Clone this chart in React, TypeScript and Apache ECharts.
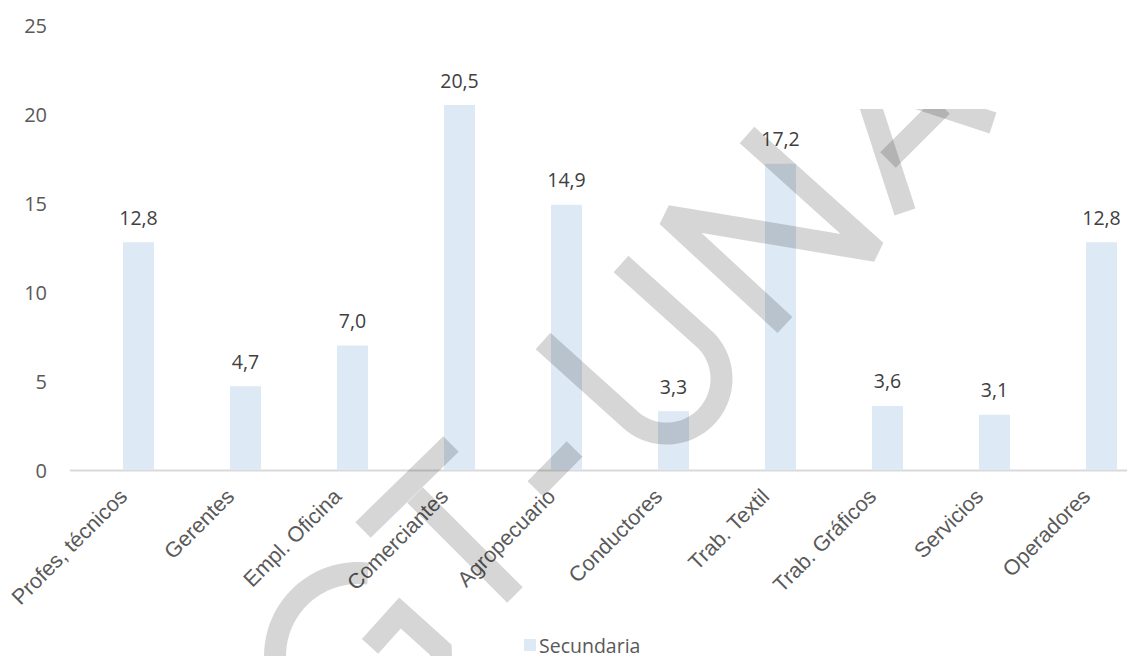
import React, { useEffect, useRef } from "react";
import * as echarts from "echarts";

const categories = [
  "Profes, técnicos",
  "Gerentes",
  "Empl. Oficina",
  "Comerciantes",
  "Agropecuario",
  "Conductores",
  "Trab. Textil",
  "Trab. Gráficos",
  "Servicios",
  "Operadores",
];
const secundaria = [12.8, 4.7, 7.0, 20.5, 14.9, 3.3, 17.2, 3.6, 3.1, 12.8];
const seriesName = "Secundaria";
const yMin = 0;
const yMax = 25;
const yInterval = 5;

const WM_COLOR = "rgba(0,0,0,0.16)";
const WM_WIDTH = 22;

function arcPts(cx: number, cy: number, r: number, a0: number, a1: number, n: number) {
  const pts: number[][] = [];
  for (let i = 0; i <= n; i++) {
    const a = ((a0 + ((a1 - a0) * i) / n) * Math.PI) / 180;
    pts.push([cx + r * Math.cos(a), cy + r * Math.sin(a)]);
  }
  return pts;
}

function watermark() {
  const d = [0.743, 0.669];
  const a1 = [543, 341];
  const a2 = [621, 264];
  const L = 114;
  const e1 = [a1[0] + L * d[0], a1[1] + L * d[1]];
  const e2 = [a2[0] + L * d[0], a2[1] + L * d[1]];
  const uc = [(e1[0] + e2[0]) / 2, (e1[1] + e2[1]) / 2];
  const ur = Math.hypot(e2[0] - e1[0], e2[1] - e1[1]) / 2;
  const ang1 = (Math.atan2(e1[1] - uc[1], e1[0] - uc[0]) * 180) / Math.PI;
  const ang2 = (Math.atan2(e2[1] - uc[1], e2[0] - uc[0]) * 180) / Math.PI;
  const uPts = [a1, ...arcPts(uc[0], uc[1], ur, ang1, ang2, 40), a2];

  const gArc = arcPts(358, 656, 83, -83, -364.3, 60);
  const gPts = [...gArc, [400, 613], [370, 646.4]];

  const polys: number[][][] = [
    gPts,
    [[363, 530], [451, 444]],
    [[415, 495], [515, 595]],
    [[535.4, 489], [574.6, 449]],
    uPts,
    [[785, 325], [667, 216], [876, 251], [747, 135]],
    [[905, 212], [862, 80], [993, 123]],
    [[888, 160], [942, 106]],
  ];
  return polys.map((p, i) => ({
    type: "polyline",
    z: 100,
    silent: true,
    shape: { points: p },
    style: {
      stroke: WM_COLOR,
      lineWidth: WM_WIDTH,
      fill: null,
      lineCap: "butt",
      lineJoin: i === 5 ? "bevel" : "miter",
    },
  }));
}

const CHART_W = 1160;

export default function App() {
  const ref = useRef<HTMLDivElement>(null);
  useEffect(() => {
    if (!ref.current) return;
    const chart = echarts.init(ref.current, undefined, { renderer: "svg" });
    const option: any = {
      animation: false,
      backgroundColor: "#ffffff",
      grid: { left: 85, right: CHART_W - 85 - 1070, top: 25, bottom: 186, containLabel: false },
      legend: {
        data: [seriesName],
        left: 519,
        top: 630,
        icon: "rect",
        itemWidth: 12,
        itemHeight: 12,
        itemGap: 6,
        textStyle: {
          fontFamily: "'Open Sans', sans-serif",
          fontSize: 19.5,
          lineHeight: 20,
          color: "#595959",
          padding: [0, 0, 0, -2],
        },
      },
      xAxis: {
        type: "category",
        data: categories,
        axisLine: { show: false },
        axisTick: { show: false },
        axisLabel: {
          interval: 0,
          rotate: 45,
          margin: 8,
          padding: [0, 21, 0, 0],
          fontFamily: "'Liberation Sans', Arial, sans-serif",
          fontSize: 21.5,
          color: "#595959",
        },
      },
      yAxis: {
        type: "value",
        min: yMin,
        max: yMax,
        interval: yInterval,
        axisLine: { show: false },
        axisTick: { show: false },
        splitLine: { show: false },
        axisLabel: {
          margin: 38,
          fontFamily: "'Open Sans', sans-serif",
          fontSize: 20,
          color: "#595959",
        },
      },
      series: [
        {
          name: seriesName,
          type: "bar",
          data: secundaria,
          barWidth: 31,
          itemStyle: { color: "#dde9f5" },
          label: {
            show: true,
            position: "top",
            distance: 15,
            fontFamily: "'Open Sans', sans-serif",
            fontSize: 19.5,
            color: "#404040",
            formatter: (p: any) => Number(p.value).toFixed(1).replace(".", ","),
          },
        },
      ],
      graphic: [
        {
          type: "line",
          z: 1,
          silent: true,
          shape: { x1: 70, y1: 470.5, x2: CHART_W, y2: 470.5 },
          style: { stroke: "#d9d9d9", lineWidth: 2 },
        },
        ...watermark(),
        {
          type: "rect",
          z: 101,
          silent: true,
          shape: { x: 830, y: 0, width: CHART_W - 830, height: 109 },
          style: { fill: "#ffffff" },
        },
      ],
    };
    chart.setOption(option);
    return () => chart.dispose();
  }, []);
  return (
    <div
      style={{
        position: "fixed",
        left: 0,
        top: 0,
        width: 1127,
        height: 656,
        overflow: "hidden",
        background: "#fff",
      }}
    >
      <div ref={ref} style={{ width: CHART_W, height: 656 }} />
    </div>
  );
}
